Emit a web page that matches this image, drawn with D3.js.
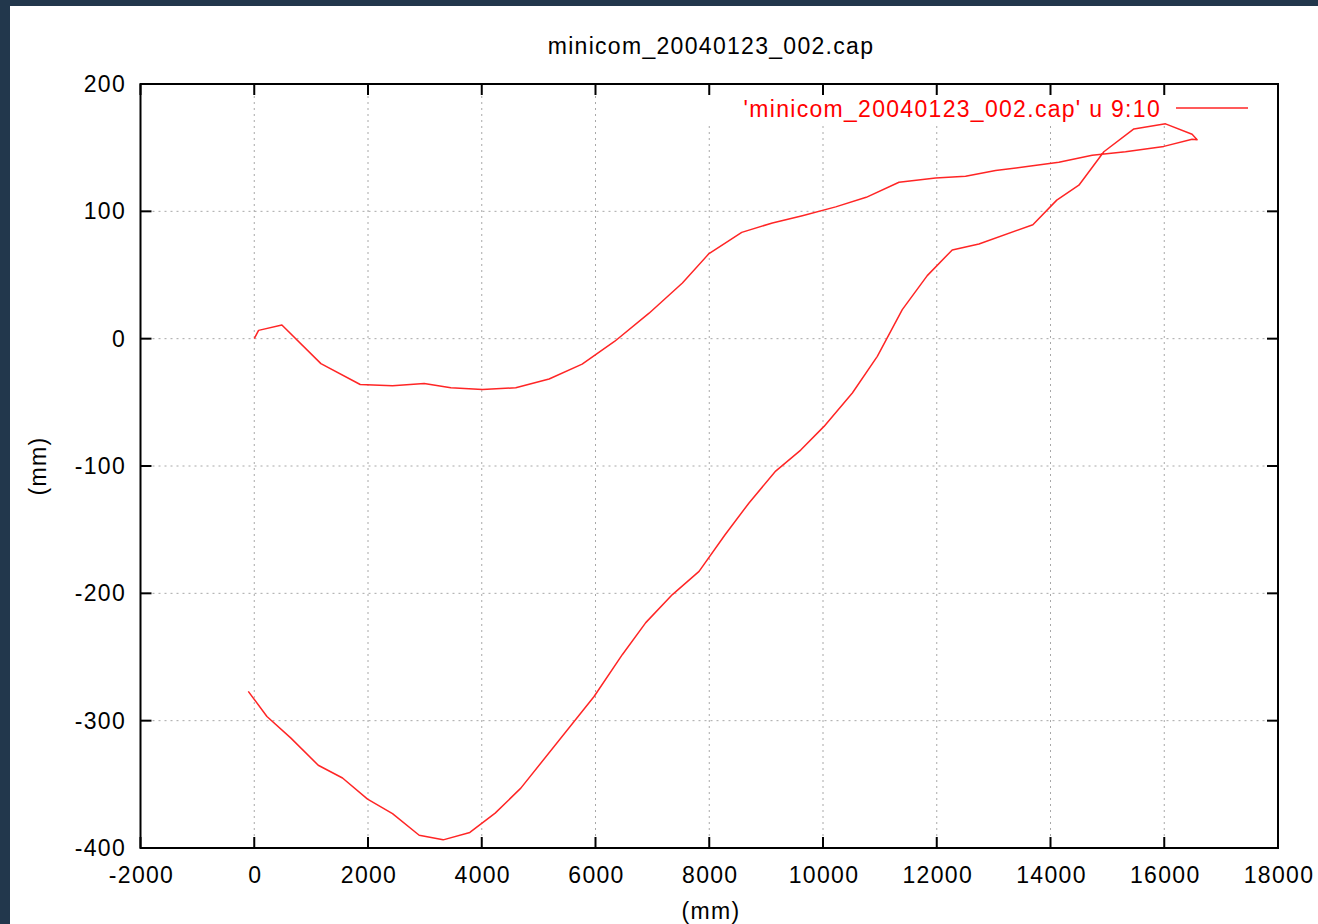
<!DOCTYPE html>
<html><head><meta charset="utf-8">
<script src="https://cdn.jsdelivr.net/npm/d3@7"></script>
<style>
html,body{margin:0;padding:0;background:#22374c;}
svg{display:block;}
text{font-family:"Liberation Sans",Arial,sans-serif;}
</style></head>
<body>
<svg id="chart" width="1318" height="924"></svg>
<script>
const title = "minicom_20040123_002.cap";
const legendLabel = "'minicom_20040123_002.cap' u 9:10";
const xLabel = "(mm)";
const yLabel = "(mm)";
const xTicks = [-2000,0,2000,4000,6000,8000,10000,12000,14000,16000,18000];
const yTicks = [-400,-300,-200,-100,0,100,200];
const xs = [0,76,486,1172,1863,2431,2988,3456,4013,4598,5184,5765,6340,6942,7528,7996,8571,9110,9637,10223,10760,11336,11980,12507,13034,13620,14147,14733,15319,15993,16490,16578,16490,16022,15466,14938,14499,14110,13690,12742,12272,11833,11394,10955,10516,10018,9608,9168,8699,8278,7821,7352,6884,6474,5975,4687,4236,3791,3321,2900,2431,1992,1552,1125,645,223,-105];
const ys = [0,6.5,10.8,-19.6,-36,-37,-35.3,-38.5,-40,-38.5,-31.7,-20,-2,20,43.7,66.8,83.5,90.9,96.6,103.5,111,122.8,126.2,127.5,132,135.4,138.5,144,146.8,151,156.6,156.3,160.5,168.7,164.7,146.8,120.5,108.8,89.5,74.4,69.7,49.5,22.8,-13.9,-42.7,-68.9,-87.5,-104,-129,-154,-182.8,-201,-223,-248,-281,-353,-372.6,-387.8,-393.6,-390,-373,-361.6,-345,-335,-313.7,-296.7,-277];

const svg = d3.select("#chart");
svg.append("rect").attr("x",10).attr("y",6).attr("width",1308).attr("height",918).attr("fill","#fff");

const L=140.5, R=1278, T=84, B=848;
const x = d3.scaleLinear().domain([-2000,18000]).range([L,R]);
const y = d3.scaleLinear().domain([-400,200]).range([B,T]);
const fs = 23, ls = 1.3;

// grid
const g = svg.append("g");
g.selectAll(".gx").data(xTicks.filter(d=>d>-2000 && d<18000)).join("line")
  .attr("x1",d=>x(d)).attr("x2",d=>x(d)).attr("y1",T).attr("y2",B)
  .attr("stroke","#a8a8a8").attr("stroke-width",1).attr("stroke-dasharray","2,4");
g.selectAll(".gy").data(yTicks.filter(d=>d>-400 && d<200)).join("line")
  .attr("x1",L).attr("x2",R).attr("y1",d=>y(d)).attr("y2",d=>y(d))
  .attr("stroke","#a8a8a8").attr("stroke-width",1).attr("stroke-dasharray","2,4");

// key background (opaque)
svg.append("rect").attr("x",700).attr("y",96).attr("width",565).attr("height",26).attr("fill","#fff");

// ticks (mirrored, inward)
const tl = 11;
const tk = svg.append("g").attr("stroke","#000").attr("stroke-width",2);
xTicks.forEach(d=>{
  tk.append("line").attr("x1",x(d)).attr("x2",x(d)).attr("y1",B).attr("y2",B-tl);
  tk.append("line").attr("x1",x(d)).attr("x2",x(d)).attr("y1",T).attr("y2",T+tl);
});
yTicks.forEach(d=>{
  tk.append("line").attr("x1",L).attr("x2",L+tl).attr("y1",y(d)).attr("y2",y(d));
  tk.append("line").attr("x1",R).attr("x2",R-tl).attr("y1",y(d)).attr("y2",y(d));
});

// tick labels
svg.selectAll(".xl").data(xTicks).join("text")
  .attr("x",d=>x(d)+1).attr("y",883).attr("text-anchor","middle")
  .attr("font-size",fs).attr("letter-spacing",ls).attr("fill","#000").text(d=>d);
svg.selectAll(".yl").data(yTicks).join("text")
  .attr("x",126).attr("y",d=>y(d)+8).attr("text-anchor","end")
  .attr("font-size",fs).attr("letter-spacing",ls).attr("fill","#000").text(d=>d);

// data line
const line = d3.line().x(d=>x(d[0])).y(d=>y(d[1]));
svg.append("path").datum(xs.map((v,i)=>[v,ys[i]]))
  .attr("d",line).attr("fill","none").attr("stroke","#ff2525").attr("stroke-width",1.5)
  .attr("stroke-linejoin","round");

// frame
svg.append("rect").attr("x",L).attr("y",T).attr("width",R-L).attr("height",B-T)
  .attr("fill","none").attr("stroke","#000").attr("stroke-width",2);

// legend
svg.append("text").attr("x",1161).attr("y",117).attr("text-anchor","end")
  .attr("font-size",fs).attr("letter-spacing",ls).attr("fill","#ff0000").text(legendLabel);
svg.append("line").attr("x1",1176).attr("x2",1248).attr("y1",108).attr("y2",108)
  .attr("stroke","#ff2525").attr("stroke-width",1.5);

// title & axis labels
svg.append("text").attr("x",711).attr("y",54).attr("text-anchor","middle")
  .attr("font-size",fs).attr("letter-spacing",ls).attr("fill","#000").text(title);
svg.append("text").attr("x",711).attr("y",919).attr("text-anchor","middle")
  .attr("font-size",fs).attr("letter-spacing",ls).attr("fill","#000").text(xLabel);
svg.append("text").attr("transform","translate(46,466) rotate(-90)").attr("text-anchor","middle")
  .attr("font-size",fs).attr("letter-spacing",ls).attr("fill","#000").text(yLabel);
</script>
</body></html>
